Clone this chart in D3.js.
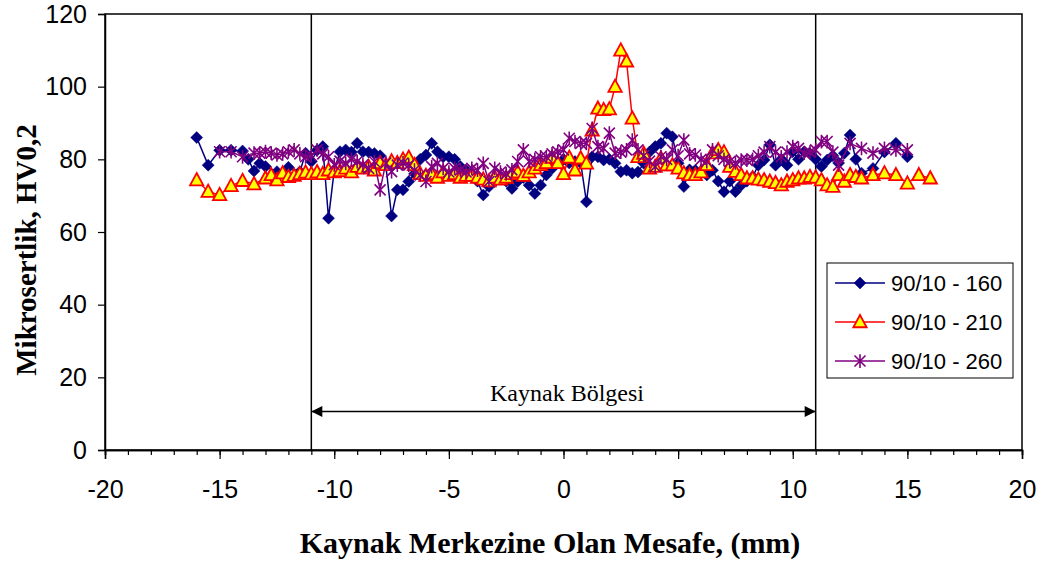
<!DOCTYPE html>
<html><head><meta charset="utf-8">
<script src="https://cdn.jsdelivr.net/npm/d3@7"></script>
<style>body{margin:0;background:#fff}svg{display:block}</style>
</head><body>
<svg id="c" width="1047" height="565"></svg>
<script>
const seriesNames = ["90/10 - 160", "90/10 - 210", "90/10 - 260"];
const xTicks = [-20, -15, -10, -5, 0, 5, 10, 15, 20];
const yTicks = [0, 20, 40, 60, 80, 100, 120];
const zoneBounds = [-11, 11];
const zoneLabel = "Kaynak Bölgesi";
const zoneArrowValue = 10.6;

const x160 = [-16,-15.5,-15,-14.5,-14,-13.75,-13.5,-13.25,-13,-12.5,-12,-11.5,-11.25,-11,-10.75,-10.5,-10.25,-10,-9.75,-9.5,-9.25,-9,-8.75,-8.5,-8.25,-8,-7.75,-7.5,-7.25,-7,-6.75,-6.5,-6.25,-6,-5.75,-5.5,-5.25,-5,-4.75,-4.5,-4.25,-4,-3.75,-3.5,-3.25,-3,-2.75,-2.5,-2.25,-2,-1.75,-1.5,-1.25,-1,-0.75,-0.5,-0.25,0,0.25,0.5,0.75,1,1.25,1.5,1.75,2,2.25,2.5,2.75,3,3.25,3.5,3.75,4,4.25,4.5,4.75,5,5.25,5.5,5.75,6,6.25,6.5,6.75,7,7.25,7.5,7.75,8,8.25,8.5,8.75,9,9.25,9.5,9.75,10,10.25,10.5,10.75,11,11.25,11.5,11.75,12,12.25,12.5,12.75,13,13.5,14,14.5,15];
const y160 = [86,78.4,82.5,82.5,82.3,80,76.8,78.9,78,76.6,77.8,76.6,81.7,79.4,82.5,83.5,63.8,77,82.1,82.6,82,84.4,82.1,82,81.6,81,78.4,64.4,71.6,71.6,73.9,76,80,81.2,84.4,82.1,80.7,80.7,80,78,77,76,74,70.2,72.5,73.9,75,74,72,73.9,75,72.9,70.6,72.9,75.7,77.5,79,80,79,79.4,79,68.3,80.7,80.7,79.8,80,78.9,76.6,77,76.2,76.5,78.9,82,83.5,84.4,87.2,86.2,78.9,72.5,77.1,77,76.6,75.7,77,74,71.1,74,71.1,72.9,74,75.2,78.4,79.8,84,78.4,80,78.4,82.1,80,82.1,81.6,80,78,79.8,81,79,81.7,86.7,80,76.2,77.5,82,84.4,80.7];

const x210 = [-16,-15.5,-15,-14.5,-14,-13.5,-13,-12.75,-12.5,-12.25,-12,-11.75,-11.5,-11.25,-11,-10.75,-10.5,-10.25,-10,-9.75,-9.5,-9.25,-9,-8.75,-8.5,-8.25,-8,-7.75,-7.5,-7.25,-7,-6.75,-6.5,-6.25,-6,-5.75,-5.5,-5.25,-5,-4.75,-4.5,-4.25,-4,-3.75,-3.5,-3.25,-3,-2.75,-2.5,-2.25,-2,-1.75,-1.5,-1.25,-1,-0.75,-0.5,-0.25,0,0.25,0.5,0.75,1,1.25,1.5,1.75,2,2.25,2.5,2.75,3,3.25,3.5,3.75,4,4.25,4.5,4.75,5,5.25,5.5,5.75,6,6.25,6.5,6.75,7,7.25,7.5,7.75,8,8.25,8.5,8.75,9,9.25,9.5,9.75,10,10.25,10.5,10.75,11,11.25,11.5,11.75,12,12.25,12.5,12.75,13,13.5,14,14.5,15,15.5,16];
const y210 = [74.3,71.1,70.2,72.7,74.1,73.2,74.8,75.7,74.3,76.2,75.2,75.5,76,76.4,76,76.5,76,77,76.5,76.8,77.5,76.5,78,77.5,78,77,79,78.5,79.5,79,80,80.5,78.5,76,75.5,76,75,76.5,75.5,76,75,75.5,75.5,75,74.5,74,75,74.5,75,76,76.5,75.5,76.5,77.5,78.5,79,80.5,79,76,80.5,77,80.3,78.9,88,94,93.6,93.8,100,110,107,91.3,80.7,81.6,77.5,78,80.3,78.4,78.4,77.5,76.2,75.7,75.7,76.5,78.5,81.7,82.6,82,78,76.6,75.7,74.8,74.8,74.5,74.3,73.9,73.5,72.9,73.9,74.3,74.8,74.8,75.2,75,74.3,72.9,72.5,75.7,73.9,75.7,75.2,74.8,75.7,76.2,75.7,73.4,75.7,74.8];

const x260 = [-15,-14.5,-14,-13.5,-13.25,-13,-12.75,-12.5,-12.25,-12,-11.75,-11.5,-11.25,-11,-10.75,-10.5,-10.25,-10,-9.75,-9.5,-9.25,-9,-8.75,-8.5,-8.25,-8,-7.75,-7.5,-7.25,-7,-6.75,-6.5,-6.25,-6,-5.75,-5.5,-5.25,-5,-4.75,-4.5,-4.25,-4,-3.75,-3.5,-3.25,-3,-2.75,-2.5,-2.25,-2,-1.75,-1.5,-1.25,-1,-0.75,-0.5,-0.25,0,0.25,0.5,0.75,1,1.25,1.5,1.75,2,2.25,2.5,2.75,3,3.25,3.5,3.75,4,4.25,4.5,4.75,5,5.25,5.5,5.75,6,6.25,6.5,6.75,7,7.25,7.5,7.75,8,8.25,8.5,8.75,9,9.25,9.5,9.75,10,10.25,10.5,10.75,11,11.25,11.5,11.75,12,12.5,13,13.5,14,14.5,15];
const y260 = [82.1,82.1,80.7,81.7,81.7,82.1,81.7,81.2,81.5,82.1,82.6,81.5,80.7,81,82.6,81.5,80.7,78.5,79.5,78.9,80,79.4,78.5,77.5,79.4,71.6,79,76.6,78.4,79,78.4,77,75.7,73.9,78,78.9,77.5,76.5,77.5,77.1,76.5,77.5,77,78.9,73.9,77.5,76.5,76,77.1,79.4,82.6,79.4,80,80.7,80.7,81.5,82.1,82.6,85.8,84.9,84.4,84.4,88.5,83.5,83,87.2,81.7,82,82.6,85.3,82.6,81,79.5,78,80.7,80,82.6,81,85.3,81.5,81.2,80,79.4,82.6,81,80,79.4,79,79.8,79.8,80,81,82,83.5,82,80.7,82,83.5,83,81.7,82,82.6,84.9,84.9,82,78.4,84.4,83,81.7,83,82.6,82.6];

const xDomain = [-20, 20];
const yDomain = [0, 120];

const svg = d3.select("#c");
const L = 105, R = 1022, T = 14, B = 450;
const xs = d3.scaleLinear().domain(xDomain).range([L, R]);
const ys = d3.scaleLinear().domain(yDomain).range([B, T]);
const SANS = "Liberation Sans, Arial, sans-serif";
const SERIF = "Liberation Serif, Times New Roman, serif";

// frame
svg.append("rect").attr("x", L).attr("y", T).attr("width", R - L).attr("height", B - T)
  .attr("fill", "none").attr("stroke", "#000").attr("stroke-width", 1.5);

// zone lines
zoneBounds.forEach(v => {
  svg.append("line").attr("x1", xs(v)).attr("x2", xs(v)).attr("y1", T).attr("y2", B)
    .attr("stroke", "#000").attr("stroke-width", 1.5);
});

// axes
const xAxisMinor = d3.axisBottom(xs).tickValues(d3.range(-20, 21, 1)).tickSize(5).tickFormat("");
const xAxis = d3.axisBottom(xs).tickValues(xTicks).tickSize(9).tickPadding(21).tickFormat(d3.format("d"));
const yAxis = d3.axisLeft(ys).tickValues(yTicks).tickSize(7).tickPadding(11);
const gxm = svg.append("g").attr("transform", `translate(0,${B})`).call(xAxisMinor);
const gx = svg.append("g").attr("transform", `translate(0,${B})`).call(xAxis);
const gy = svg.append("g").attr("transform", `translate(${L},0)`).call(yAxis);
[gxm, gx, gy].forEach(g => {
  g.select(".domain").attr("stroke", "#000").attr("stroke-width", 1.5);
  g.selectAll(".tick line").attr("stroke", "#000").attr("stroke-width", 1.2);
  g.selectAll("text").attr("font-family", SANS).attr("font-size", 25).attr("fill", "#000");
});
gx.selectAll("text").text(d => d < 0 ? "-" + Math.abs(d) : d);

// titles
svg.append("text").attr("x", 550).attr("y", 553).attr("text-anchor", "middle")
  .attr("font-family", SERIF).attr("font-weight", "bold").attr("font-size", 30)
  .text("Kaynak Merkezine Olan Mesafe, (mm)");
svg.append("text").attr("transform", "translate(36,250) rotate(-90)").attr("text-anchor", "middle")
  .attr("font-family", SERIF).attr("font-weight", "bold").attr("font-size", 29)
  .text("Mikrosertlik, HV0,2");

// zone arrow
const defs = svg.append("defs");
defs.append("marker").attr("id", "ah").attr("viewBox", "0 0 10 10").attr("refX", 10).attr("refY", 5)
  .attr("markerWidth", 15).attr("markerHeight", 11).attr("markerUnits", "userSpaceOnUse").attr("orient", "auto-start-reverse")
  .append("path").attr("d", "M0,0 L10,5 L0,10 Z").attr("fill", "#000");
const ay = ys(zoneArrowValue);
svg.append("line").attr("x1", xs(zoneBounds[0])).attr("x2", xs(zoneBounds[1])).attr("y1", ay).attr("y2", ay)
  .attr("stroke", "#000").attr("stroke-width", 1.5)
  .attr("marker-start", "url(#ah)").attr("marker-end", "url(#ah)");
svg.append("text").attr("x", 567).attr("y", ay - 10).attr("text-anchor", "middle")
  .attr("font-family", SERIF).attr("font-size", 24).text(zoneLabel);

// series
const line = d3.line().x(d => xs(d[0])).y(d => ys(d[1]));
const colors = ["#000080", "#FF0000", "#800080"];
const data = [d3.zip(x160, y160), d3.zip(x210, y210), d3.zip(x260, y260)];

function diamond(g, cx, cy, s) {
  g.append("path").attr("d", `M${cx},${cy - s} L${cx + s},${cy} L${cx},${cy + s} L${cx - s},${cy} Z`).attr("fill", "#000080").attr("stroke", "#000080").attr("stroke-width", 0.5);
}
function tri(g, cx, cy, s) {
  g.append("path").attr("d", `M${cx},${cy - s} L${cx + s * 0.95},${cy + s * 0.75} L${cx - s * 0.95},${cy + s * 0.75} Z`).attr("fill", "#FFFF00").attr("stroke", "#FF0000").attr("stroke-width", 1.8);
}
function star(g, cx, cy, s) {
  const p = `M${cx - s},${cy - s} L${cx + s},${cy + s} M${cx - s},${cy + s} L${cx + s},${cy - s} M${cx},${cy - s * 1.25} L${cx},${cy + s * 1.25}`;
  g.append("path").attr("d", p).attr("stroke", "#800080").attr("stroke-width", 1.6).attr("fill", "none");
}
const markers = [(g, a, b) => diamond(g, a, b, 6), (g, a, b) => tri(g, a, b, 7), (g, a, b) => star(g, a, b, 5.5)];

data.forEach((d, i) => {
  const g = svg.append("g");
  g.append("path").datum(d).attr("d", line).attr("fill", "none").attr("stroke", colors[i]).attr("stroke-width", 1.5);
  d.forEach(p => markers[i](g, xs(p[0]), ys(p[1])));
});

// legend
const lg = svg.append("g");
lg.append("rect").attr("x", 827).attr("y", 263).attr("width", 186).attr("height", 115)
  .attr("fill", "#fff").attr("stroke", "#000").attr("stroke-width", 1);
seriesNames.forEach((n, i) => {
  const yy = 283 + i * 39;
  lg.append("line").attr("x1", 835).attr("x2", 885).attr("y1", yy).attr("y2", yy).attr("stroke", colors[i]).attr("stroke-width", 1.5);
  markers[i](lg, 860, yy);
  lg.append("text").attr("x", 891).attr("y", yy + 8).attr("font-family", SANS).attr("font-size", 22).text(n);
});
</script>
</body></html>
